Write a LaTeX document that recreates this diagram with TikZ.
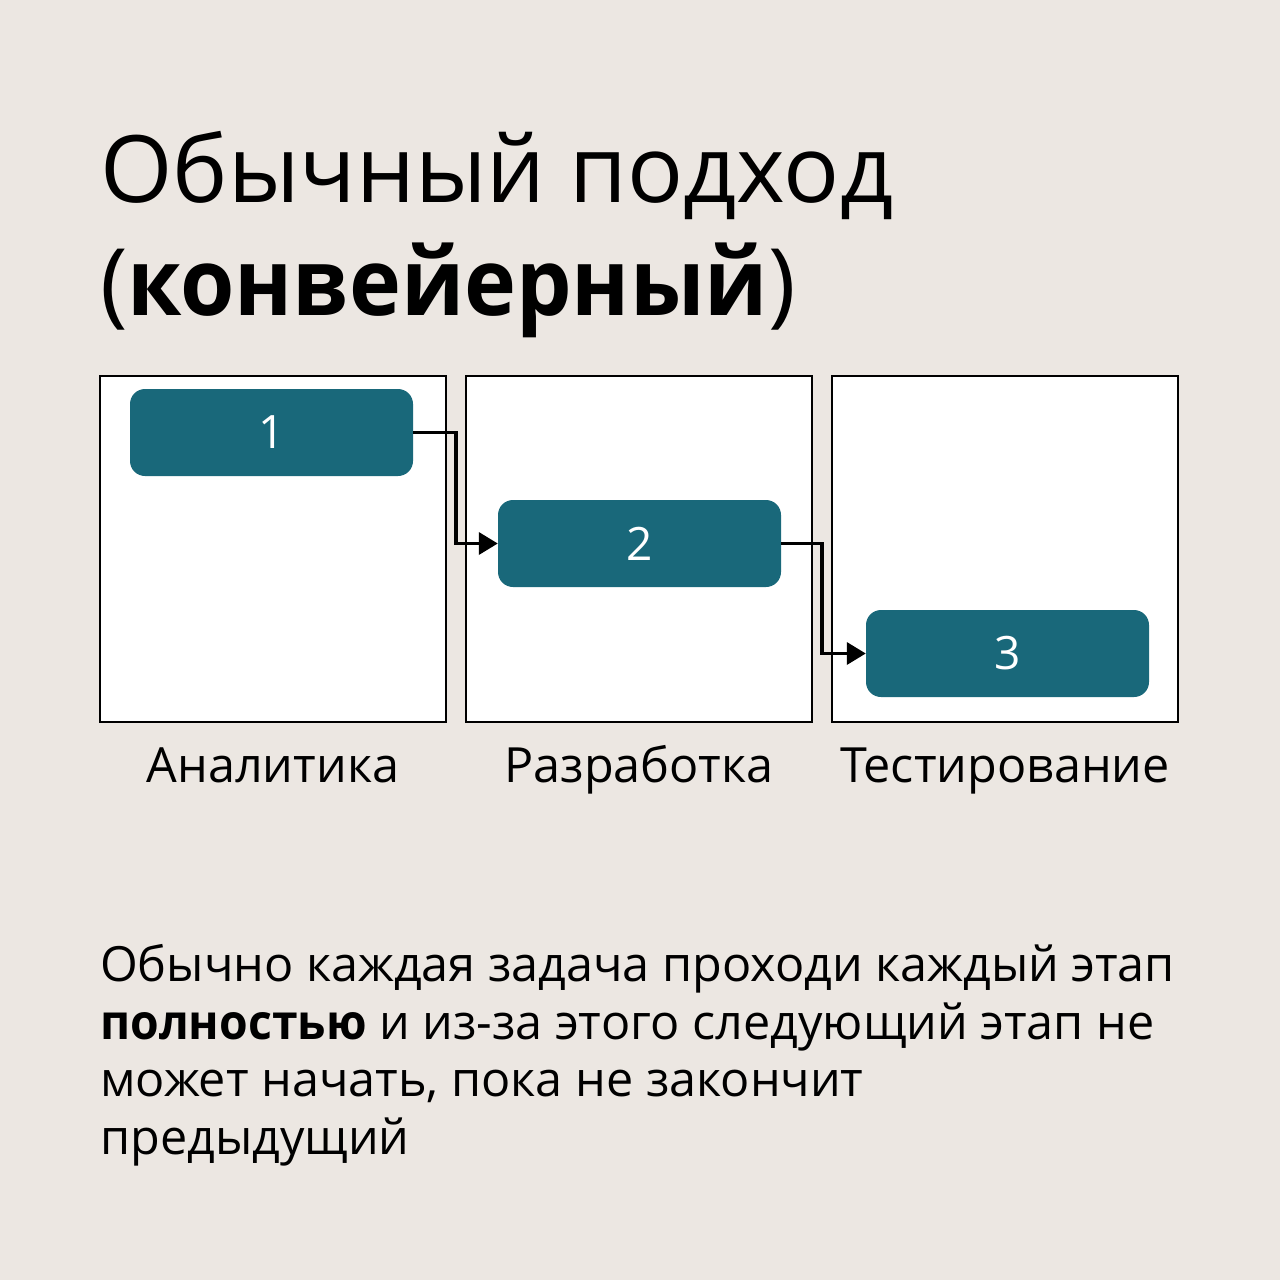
\documentclass[tikz,border=0pt]{standalone}
\usepackage{fontspec}
\setmainfont{Open Sans}
\usetikzlibrary{arrows.meta,positioning,calc}

\definecolor{paper}{HTML}{ECE7E2}
\definecolor{teal}{HTML}{19687A}

\newcommand\boldword[2]{\textbf{\addfontfeature{FakeStretch=#1}#2}}

\tikzset{
  stage/.style={draw=black,line width=1.3pt,fill=white,minimum width=346pt,minimum height=346pt,inner sep=0pt},
  task/.style={fill=teal,rounded corners=15pt,minimum width=283pt,minimum height=87pt,inner sep=0pt,
               text=white,font=\fontsize{46}{46}\selectfont},
  stagename/.style={anchor=base,inner sep=0pt,font=\fontsize{48.5}{48.5}\selectfont},
  conn/.style={line width=3.6pt,-{Triangle[length=19pt,width=22pt]}},
}

\begin{document}
\begin{tikzpicture}[x=1pt,y=-1pt]
\useasboundingbox[fill=paper] (0,0) rectangle (1280,1280);

% title (base = last line)
\node [anchor=base west,inner sep=0pt,align=left,font=\fontsize{93}{113}\selectfont] (title)
      at (100,315) {Обычный подход\\(\boldword{0.945}{конвейерный})};

% stages
\node [stage] (f1) at ( 273,549) {};
\node [stage] (f2) at ( 639,549) {};
\node [stage] (f3) at (1005,549) {};
\coordinate (g1) at ($(f1.east)!.5!(f2.west)$);
\coordinate (g2) at ($(f2.east)!.5!(f3.west)$);

% tasks
\node [task] (t1) at ( 271.5,432.5) {1};
\node [task] (t2) at ( 639.5,543.5) {2};
\node [task] (t3) at (1007.5,653.5) {3};

\draw[conn] (t1.east) -- (t1.east -| g1) |- (t2.west);
\draw[conn] (t2.east) -- (t2.east -| g2) |- (t3.west);

% stage names
\node [stagename] (n1) at ([yshift=-60pt]f1.south) {Аналитика};
\node [stagename] (n2) at ([yshift=-60pt]f2.south) {Разработка};
\node [stagename] (n3) at ([yshift=-60pt]f3.south) {Тестирование};

% note (base = last line)
\node [anchor=base west,inner sep=0pt,align=left,font=\fontsize{48.5}{57.5}\selectfont] (note)
      at (100,1154) {Обычно каждая задача проходи каждый этап\\
                    \boldword{0.955}{полностью} и из-за этого следующий этап не\\
                    может начать, пока не закончит\\
                    предыдущий};
\end{tikzpicture}
\end{document}
